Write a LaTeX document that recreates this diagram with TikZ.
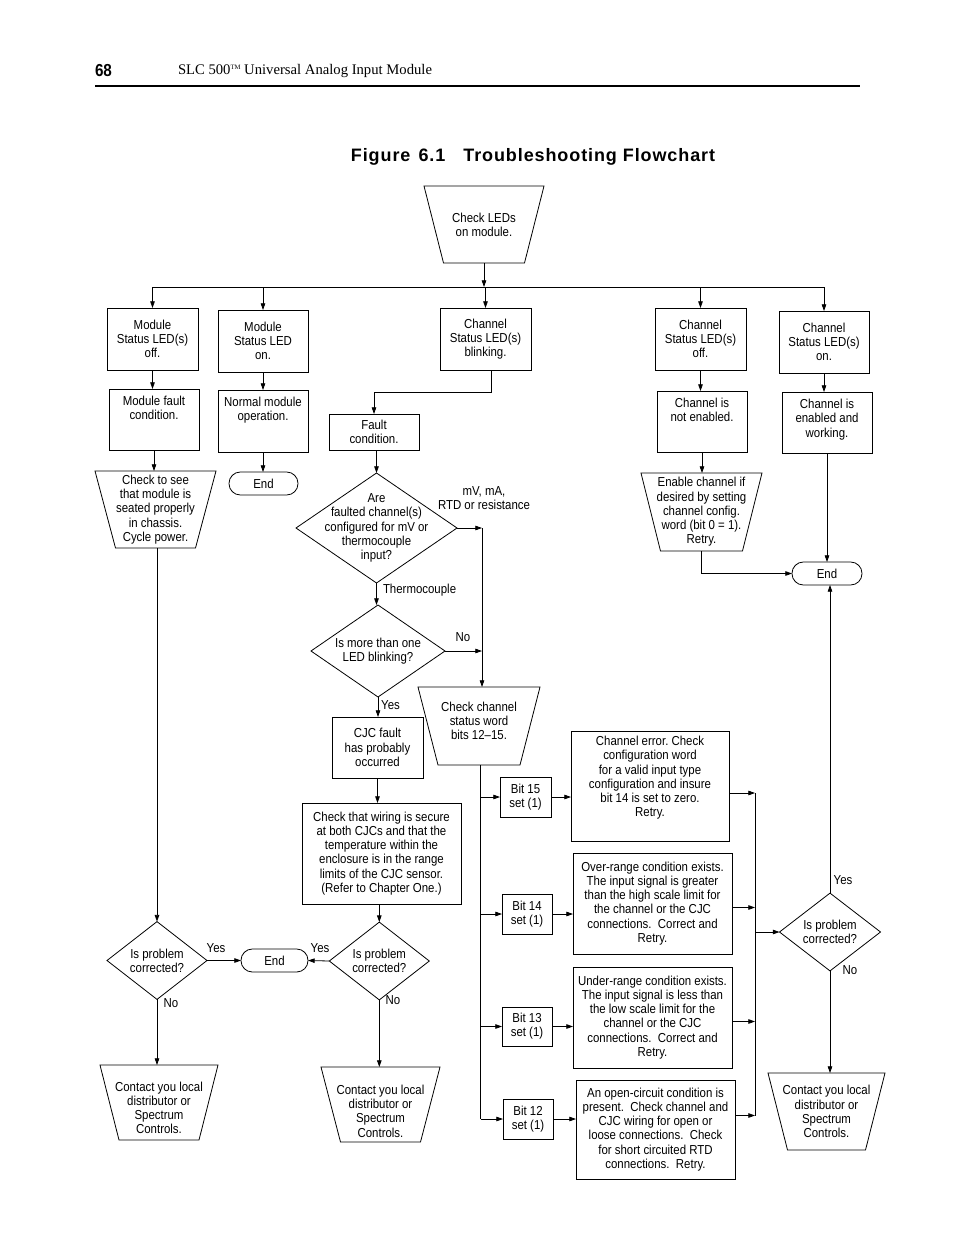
\documentclass[tikz,border=0pt]{standalone}
\usepackage{fontspec}
\setmainfont{Liberation Serif}
\newfontfamily\cond{Liberation Sans}[FakeStretch=0.88]
\newfontfamily\titlef{Liberation Sans}[LetterSpace=5]
\usetikzlibrary{shapes.geometric,arrows.meta,calc}
\newcommand\mytrap[2]{\draw[line] (#1.north west) -- (#1.north east) -- ($(#1.south east)+(-#2,0)$) -- ($(#1.south west)+(#2,0)$) -- cycle;}
\frenchspacing
\begin{document}
\begin{tikzpicture}[x=0.75pt,y=-0.75pt,
  every node/.style={font=\cond\fontsize{9.75pt}{10.65pt}\selectfont, align=center, inner sep=0pt, outer sep=0pt},
  line/.style={line width=0.6pt},
  arr/.style={line width=0.6pt,-{Triangle[length=5pt,width=3.4pt]}},
  sz/.style 2 args={minimum width=#1*0.75pt, minimum height=#2*0.75pt},
  box/.style={draw, line width=0.6pt, rectangle},
  dia/.style={draw, line width=0.6pt, diamond},
  stad/.style={draw, line width=0.6pt, rounded corners=8.5pt},
]
\useasboundingbox (0,0) rectangle (954,1235);

% header
\node[anchor=west, font=\cond\bfseries\fontsize{13pt}{14pt}\selectfont] (pg) at (95,71) {68};
\node[anchor=west, font=\rmfamily\fontsize{11pt}{12pt}\selectfont] (hd) at (178,71) {SLC 500\raisebox{3.6pt}{\fontsize{5pt}{5pt}\selectfont TM} Universal Analog Input Module};
\draw[line width=1.1pt] (95,86) -- (860,86);
\node[font=\titlef\bfseries\fontsize{13.5pt}{14pt}\selectfont] (title) at (533,157) {Figure\hspace{0.45em}6.1\hspace{1em}Troubleshooting Flowchart};

% top
\node[sz={120}{77}] (T0) at (484,224.5) {Check LEDs\\on module.};
\mytrap{T0}{19.5}

% row 1
\node[box, sz={91}{62}] (A1) at (152.5,339) {Module\\Status LED(s)\\off.};
\node[box, sz={90}{62}] (B1) at (263,341) {Module\\Status LED\\on.};
\node[box, sz={91}{62}] (C1) at (485.5,339) {Channel\\Status LED(s)\\blinking.};
\node[box, sz={91}{62}] (D1) at (700.5,339) {Channel\\Status LED(s)\\off.};
\node[box, sz={90}{62}] (E1) at (824,342) {Channel\\Status LED(s)\\on.};

% row 2
\node[box, sz={90}{61}, label={[anchor=north, yshift=-5.25pt]north:{Module fault\\condition.}}] (A2) at (154,419.5) {};
\node[box, sz={90}{62}, label={[anchor=north, yshift=-5pt]north:{Normal module\\operation.}}] (B2) at (263,421) {};
\node[box, sz={90}{36}] (C2) at (374,432) {Fault\\condition.};
\node[box, sz={90}{61}, label={[anchor=north, yshift=-5.5pt]north:{Channel is\\not enabled.}}] (D2) at (702,421.5) {};
\node[box, sz={90}{61}, label={[anchor=north, yshift=-5.5pt]north:{Channel is\\enabled and\\working.}}] (E2) at (827,422.5) {};

% row 3
\node[sz={121}{77}] (A3) at (155.5,509.5) {Check to see\\that module is\\seated properly\\in chassis.\\Cycle power.};
\mytrap{A3}{20.5}
\node[stad, sz={69}{23}] (B3) at (263.5,483.5) {End};
\node[dia, sz={161}{110}, label=center:{Are\\faulted channel(s)\\configured for mV or\\thermocouple\\input?}] (C3) at (376.5,528) {};
\node[sz={121}{78}] (D3) at (701.5,512) {Enable channel if\\desired by setting\\channel config.\\word (bit 0 = 1).\\Retry.};
\mytrap{D3}{19.5}
\node[stad, sz={70}{23}] (E3) at (827,573.5) {End};

\node (mv) at (484,498) {mV, mA,\\RTD or resistance};
\node[anchor=west] (thc) at (383,590) {Thermocouple};

% middle column
\node[dia, sz={134}{92}, label=center:{Is more than one\\LED blinking?}] (C4) at (378,651) {};
\node (no1) at (463,637) {No};
\node (yes1) at (390.5,705) {Yes};
\node[box, sz={91}{61}] (C5) at (377.5,747.5) {CJC fault\\has probably\\occurred};
\node[sz={122}{78}, label={[yshift=4pt]center:{Check channel\\status word\\bits 12–15.}}] (F1) at (479,726) {};
\mytrap{F1}{20}
\node[box, sz={159}{101}] (C6) at (381.5,853.5) {Check that wiring is secure\\at both CJCs and that the\\temperature within the\\enclosure is in the range\\limits of the CJC sensor.\\(Refer to Chapter One.)};
\node[dia, sz={100}{70}] (C7) at (379.3,961) {Is problem\\corrected?};
\node[stad, sz={67}{23}] (M) at (274.5,960.5) {End};
\node[dia, sz={100}{69}] (L1) at (157,960.5) {Is problem\\corrected?};
\node (yes2) at (216,948) {Yes};
\node (yes3) at (320,948) {Yes};
\node (no2) at (171,1003) {No};
\node (no3) at (393,1000) {No};
\node[sz={118}{75}, label={[yshift=-4pt]center:{Contact you local\\distributor or\\Spectrum\\Controls.}}] (L2) at (159,1102.5) {};
\mytrap{L2}{19}
\node[sz={119}{75}, label={[yshift=-5pt]center:{Contact you local\\distributor or\\Spectrum\\Controls.}}] (C8) at (380.5,1104.5) {};
\mytrap{C8}{19.5}

% bit boxes
\node[box, sz={51}{40}] (G15) at (525.5,797) {Bit 15\\set (1)};
\node[box, sz={50}{40}] (G14) at (527,914) {Bit 14\\set (1)};
\node[box, sz={50}{39}] (G13) at (527,1026.5) {Bit 13\\set (1)};
\node[box, sz={50}{40}] (G12) at (528,1119) {Bit 12\\set (1)};

\node[box, sz={158}{110}, label={[anchor=north, yshift=-4pt]north:{Channel error. Check\\configuration word\\for a valid input type\\configuration and insure\\bit 14 is set to zero.\\Retry.}}] (H15) at (650,786) {};
\node[box, sz={159}{101}] (H14) at (652.5,903.5) {Over-range condition exists.\\The input signal is greater\\than the high scale limit for\\the channel or the CJC\\connections.\ \ Correct and\\Retry.};
\node[box, sz={159}{101}] (H13) at (652.5,1017.5) {Under-range condition exists.\\The input signal is less than\\the low scale limit for the\\channel or the CJC\\connections.\ \ Correct and\\Retry.};
\node[box, sz={159}{99}] (H12) at (655.5,1129.5) {An open-circuit condition is\\present.\ \ Check channel and\\CJC wiring for open or\\loose connections.\ \ Check\\for short circuited RTD\\connections.\ \ Retry.};

% right column
\node[dia, sz={101}{69}] (R1) at (830,932) {Is problem\\corrected?};
\node (yes4) at (843,880) {Yes};
\node (no4) at (850,970) {No};
\node[sz={117}{77}] (R2) at (826.5,1111.5) {Contact you local\\distributor or\\Spectrum\\Controls.};
\mytrap{R2}{19.5}

% connectors
\coordinate (bus) at (484,287);
\draw[arr] (T0.south) -- (bus);
\draw[line] (A1.north |- bus) -- (E1.north |- bus);
\foreach \n in {A1,B1,C1,D1,E1} \draw[arr] (\n.north |- bus) -- (\n.north);
\draw[arr] (A1.south) -- (A1.south |- A2.north);
\draw[arr] (A2.south) -- (A2.south |- A3.north);
\draw[arr] (B1.south) -- (B1.south |- B2.north);
\draw[arr] (B2.south) -- (B2.south |- B3.north);
\draw[arr] (D1.south) -- (D1.south |- D2.north);
\draw[arr] (D2.south) -- (D2.south |- D3.north);
\draw[arr] (E1.south) -- (E1.south |- E2.north);
\draw[arr] (E2.south) -- (E2.south |- E3.north);
\draw[arr] (D3.south) |- (E3.west);
\coordinate (cb) at (491.5,392);
\draw[arr] (C1.south -| cb) -- (cb) -| (C2.north);
\draw[arr] (C3.north |- C2.south) -- (C3.north);
\coordinate (vx) at (482,528);
\draw[arr] (C3.east) -- (vx);
\draw[arr] (vx) -- (vx |- F1.north);
\draw[arr] (C3.south) -- (C3.south |- C4.north);
\draw[arr] (C4.east) -- (C4.east -| vx);
\draw[arr] (C4.south) -- (C4.south |- C5.north);
\draw[arr] (C5.south) -- (C5.south |- C6.north);
\draw[arr] (C7.north |- C6.south) -- (C7.north);
\draw[arr] (C7.west) -- (M.east);
\draw[arr] (L1.east) -- (M.west);
\draw[arr] (L1.north |- A3.south) -- (L1.north);
\draw[arr] (L1.south) -- (L1.south |- L2.north);
\draw[arr] (C7.south) -- (C7.south |- C8.north);
\coordinate (bx) at (480.5,765);
\draw[line] (bx) -- (G12.west -| bx);
\foreach \g in {G15,G14,G13,G12} \draw[arr] (\g.west -| bx) -- (\g.west);
\draw[arr] (G15.east) -- (G15.east -| H15.west);
\draw[arr] (G14.east) -- (G14.east -| H14.west);
\draw[arr] (G13.east) -- (G13.east -| H13.west);
\draw[arr] (G12.east) -- (G12.east -| H12.west);
\coordinate (rx) at (755,932);
\coordinate (h15o) at ($(H15.east)+(0,7)$);
\coordinate (h14o) at ($(H14.east)+(0,4)$);
\coordinate (h13o) at ($(H13.east)+(0,4)$);
\coordinate (h12o) at ($(H12.east)+(0,-14)$);
\foreach \h in {h15o,h14o,h13o,h12o} \draw[arr] (\h) -- (\h -| rx);
\draw[line] (h15o -| rx) -- (h12o -| rx);
\draw[arr] (rx) -- (R1.west);
\draw[arr] (R1.north) -- (R1.north |- E3.south);
\draw[arr] (R1.south) -- (R1.south |- R2.north);
\end{tikzpicture}
\end{document}
